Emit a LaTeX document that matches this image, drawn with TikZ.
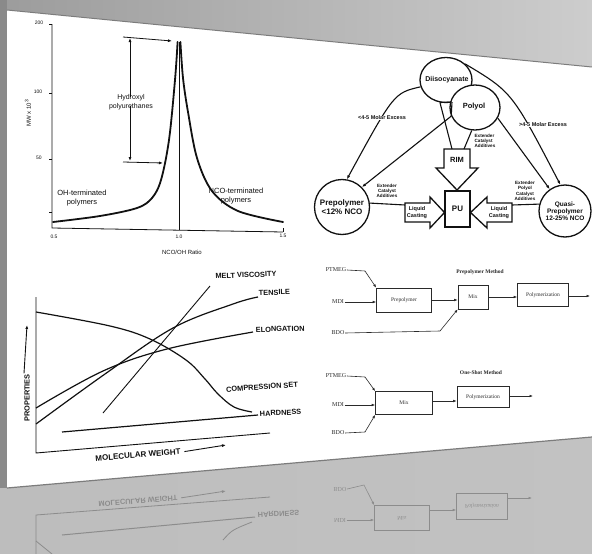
\documentclass[tikz,border=0pt]{standalone}
\usepackage{fontspec}
\setmainfont{Liberation Sans}
\newfontfamily\printserif{Liberation Serif}
\usetikzlibrary{arrows.meta,shapes.geometric}

\definecolor{wallleft}{HTML}{9C9C9C}
\definecolor{wallright}{HTML}{CDCDCD}
\definecolor{floorleft}{HTML}{BDBDBD}
\definecolor{floormid}{HTML}{DBDBDB}
\definecolor{floorright}{HTML}{C2C2C2}
\definecolor{strip}{HTML}{8A8A8A}
\definecolor{rim}{HTML}{7C7C7C}
\definecolor{ghost}{HTML}{8C8C8C}
\definecolor{ink}{HTML}{111111}
\definecolor{printink}{HTML}{2A2A2A}

\tikzset{
  every node/.style={inner sep=0.6pt, text=ink},
  tipS/.style={-{Latex[length=4pt,width=3pt]}},
  tipF/.style={-{Latex[length=3.5pt,width=2.6pt]}},
  axisA/.style={line width=0.8pt, ink},
  peak/.style={line width=1.8pt, ink, line cap=round},
  bold/.style={line width=1.1pt, ink},
  outline/.style={line width=1.3pt, ink},
  curve/.style={line width=1.2pt, ink},
  flowline/.style={line width=0.6pt, printink},
  flowbox/.style={draw=printink, line width=0.6pt, inner sep=0pt,
    font=\printserif\fontsize{5.5}{6}\selectfont, text=printink},
  inlbl/.style={font=\printserif\fontsize{6}{6}\selectfont, text=printink},
  ttl/.style={font=\printserif\bfseries\fontsize{5.5}{6}\selectfont, text=printink},
  tick/.style={font=\fontsize{5}{5}\selectfont},
  reg/.style={font=\fontsize{7.5}{8.5}\selectfont, align=center},
  regS/.style={font=\fontsize{6}{6}\selectfont},
  bA/.style={font=\bfseries\fontsize{7.5}{8}\selectfont},
  bB/.style={font=\bfseries\fontsize{8}{9.5}\selectfont, align=center},
  bC/.style={font=\bfseries\fontsize{6.5}{7.3}\selectfont, align=center},
  bD/.style={font=\bfseries\fontsize{5.5}{6.5}\selectfont, align=center},
  bE/.style={font=\bfseries\fontsize{4.6}{5.3}\selectfont, align=center},
  caps/.style={font=\bfseries\fontsize{7.4}{8}\selectfont},
  ghostline/.style={line width=0.8pt, ghost},
  ghosttext/.style={text=ghost},
}

\begin{document}
\begin{tikzpicture}[x=1pt,y=-1pt]
\useasboundingbox (0,0) rectangle (592,554);

% ---------- backdrop: wall, floor and the projected sheet ----------
\shade[left color=wallleft, right color=wallright] (0,0) rectangle (592,554);
\shade[left color=floorleft, middle color=floormid, right color=floorright]
  (0,488) -- (592,437) -- (592,554) -- (0,554) -- cycle;
\fill[strip] (0,0) rectangle (7,488);
\fill[white] (7,10) -- (592,67) -- (592,437) -- (7,488) -- cycle;
\draw[rim, line width=1pt] (7,10) -- (592,67);
\draw[rim, line width=1.2pt] (7,488) -- (592,437);

% ---------- floor reflection ----------
\draw[ghostline] (36,554) -- (36,515) -- (270,497);
\node[ghosttext, caps, rotate=4.5] (rmw) at (138,501) {\scalebox{1}[-1]{MOLECULAR WEIGHT}};
\coordinate (rmwtip) at (226,491);
\draw[ghostline, tipS] ([xshift=3pt]rmw.east) -- (rmwtip);
\coordinate (rh1) at (62,535);
\coordinate (rh2) at (255,517);
\draw[ghostline, line width=1pt] (rh1) -- (rh2);
\node[ghosttext, caps, rotate=3, anchor=west] (rhard) at (257,515) {\scalebox{1}[-1]{HARDNESS}};
\coordinate (rc1) at (223,540);
\coordinate (rc2) at (252,522);
\draw[ghostline] (rc1) .. controls (232,530) .. (rc2);
\coordinate (rt1) at (36,541);
\coordinate (rt2) at (52,554);
\draw[ghostline] (rt1) -- (rt2);
\node[flowbox, draw=ghost, text=ghost, minimum width=55, minimum height=25] (rmix) at (402,518) {\scalebox{1}[-1]{Mix}};
\node[flowbox, draw=ghost, text=ghost, minimum width=51, minimum height=26] (rpol) at (482,506) {\scalebox{1}[-1]{Polymerization}};
\node[inlbl, text=ghost] (rbdo) at (340,489) {\scalebox{1}[-1]{BDO}};
\node[inlbl, text=ghost] (rmdi) at (340,520) {\scalebox{1}[-1]{MDI}};
\draw[flowline, ghost, tipF] (rbdo.east) -- (364,485) -- (rmix.north west);
\draw[flowline, ghost, tipF] (rmdi.east) -- (rmix.west |- rmdi);
\draw[flowline, ghost, tipF] (rmix.east |- 0,510) -- (rpol.west |- 0,510);
\coordinate (rout) at (532,498);
\draw[flowline, ghost, tipF] (rpol.east |- rout) -- (rout);

% ---------- molecular weight versus NCO/OH ratio ----------
\draw[axisA] (52,24) -- (52,228) -- (283,232);
\foreach \yy in {24,93,159,212} \draw[axisA] (49,\yy) -- (52,\yy);
\draw[axisA] (283,228) -- (283,232);
\draw[line width=0.6pt, ink] (179,42) -- (179,230);
\node[tick] (t200) at (39,23) {200};
\node[tick] (t100) at (38,92) {100};
\node[tick] (t50) at (39,158) {50};
\node[tick] (x05) at (54,237) {0.5};
\node[tick] (x10) at (179,237) {1.0};
\node[tick] (x15) at (283,236) {1.5};
\node[regS, rotate=90] (mwlbl) at (28,113) {MW x 10\textsuperscript{3}};
\node[regS] (ratio) at (182,252) {NCO/OH Ratio};

\draw[peak] plot[smooth, tension=0.55] coordinates
  {(53,222) (100,216) (137,208) (152,198) (161,180) (169,140) (175,80) (177.6,42)};
\draw[peak] plot[smooth, tension=0.55] coordinates
  {(180.4,42) (183,78) (188,112) (197,158) (212,191) (238,211) (283,222)};

\node[reg, font=\fontsize{7}{8.5}\selectfont] (hyd) at (131,102) {Hydroxyl\\polyurethanes};
\coordinate (hyup) at (130,38);
\coordinate (hydown) at (130,161);
\draw[axisA, tipS] ([yshift=-3pt]hyd.north -| hyup) -- (hyup);
\draw[axisA, tipS] ([yshift=4pt]hyd.south -| hydown) -- (hydown);
\coordinate (hytl) at (123,37);
\coordinate (hytr) at (172,41);
\draw[axisA, tipS] (hytl) -- (hytr);
\coordinate (hybl) at (123,162);
\coordinate (hybr) at (163,163);
\draw[axisA, tipS] (hybl) -- (hybr);

\node[reg] (ohterm) at (82,198) {OH-terminated\\polymers};
\node[reg] (ncoterm) at (236,196) {NCO-terminated\\polymers};

% ---------- routes to polyurethane ----------
\node[ellipse, draw, outline, minimum width=52, minimum height=45] (dii) at (446,80) {};
\node[bA, font=\bfseries\fontsize{7}{8}\selectfont] (diit) at (447,80) {Diisocyanate};
\coordinate (wedge) at (452,102);
\draw[bold] (dii.255) -- (wedge);
\node[ellipse, draw, outline, fill=white, minimum width=50, minimum height=45] (pol) at (475,107.5) {};
\node[bA] (polt) at (474,107) {Polyol};
\draw[bold] (wedge) -- (pol.200);

\node[circle, draw, outline, minimum size=55] (pre) at (342,207) {};
\node[bB] (pret) at (342,207) {Prepolymer\\<12\% NCO};
\node[circle, draw, outline, minimum size=52] (qua) at (565,211) {};
\node[bC] (quat) at (565,211) {Quasi-\\Prepolymer\\12-25\% NCO};

\node[draw, outline, minimum width=25, minimum height=36, inner sep=0pt, bB] (pu) at (457.5,209) {PU};

% block arrows
\draw[outline] (444,149) -- (470,149) -- (470,168) -- (478,168) -- (457,190)
  -- (436,168) -- (444,168) -- cycle;
\node[bA] (rimt) at (457,160) {RIM};
\coordinate (rimtl) at (452,149);
\coordinate (rimtr) at (464,149);
\draw[outline] (405,203) -- (430,203) -- (430,197) -- (444.5,212.5) -- (430,228)
  -- (430,222) -- (405,222) -- cycle;
\node[bD] (lca) at (417,212.5) {Liquid\\Casting};
\draw[outline] (512,203) -- (487,203) -- (487,197) -- (470.5,212.5) -- (487,228)
  -- (487,222) -- (512,222) -- cycle;
\node[bD] (lcb) at (499,212.5) {Liquid\\Casting};
\coordinate (lcain) at (405,205);
\coordinate (lcbout) at (512,205);

% connectors
\draw[bold] (dii.255) -- (rimtl);
\draw[bold] (pol.262) -- (rimtr);
\draw[bold, tipS] (dii.195) .. controls (394,93) .. (pre.80);
\draw[bold, tipS] (pol.200) -- (pre.45);
\draw[bold, tipS] (dii.40) .. controls (512,92) .. (qua.100);
\draw[bold, tipS] (pol.-25) -- (qua.125);
\draw[bold] (pre.8) -- (lcain);
\draw[bold] (lcbout) -- (qua.165);

\node[bD, fill=white, inner sep=0.3pt] (mex1) at (382,118) {<4-5 Molar Excess};
\node[bD, fill=white, inner sep=0.3pt] (mex2) at (543,125) {>4-5 Molar Excess};
\node[bE, align=left] (extc) at (485,141) {Extender\\Catalyst\\Additives};
\node[bE] (exta) at (387,191) {Extender\\Catalyst\\Additives};
\node[bE] (extb) at (525,191) {Extender\\Polyol\\Catalyst\\Additives};

% ---------- properties versus molecular weight ----------
\draw[line width=0.9pt, ink] (36,297) -- (36,453) -- (270,433);
\draw[curve] plot[smooth, tension=0.6] coordinates
  {(36,312) (110,326) (150,339) (186,360) (205,379) (218,394) (234,407) (252,412)};
\draw[curve] plot[smooth, tension=0.6] coordinates
  {(36,424) (105,374) (173,328) (233,304) (258,297)};
\draw[curve] plot[smooth, tension=0.6] coordinates
  {(36,408) (103,371) (167,349) (253,332)};
\coordinate (mv1) at (103,413);
\coordinate (mv2) at (210,286);
\draw[line width=0.9pt, ink] (mv1) -- (mv2);
\coordinate (hd1) at (62,432);
\coordinate (hd2) at (258,415);
\draw[curve] (hd1) -- (hd2);

\node[caps, rotate=2] (meltv) at (246,275) {MELT VISCOSITY};
\node[caps, rotate=2, anchor=west] (tens) at (258,293) {TENSILE};
\node[caps, rotate=2, anchor=west] (elong) at (255,330) {ELONGATION};
\node[caps, rotate=4] (cset) at (262,387) {COMPRESSION SET};
\node[caps, rotate=3, anchor=west] (hard) at (259,414) {HARDNESS};
\node[caps, rotate=90] (props) at (27,398) {PROPERTIES};
\coordinate (propstip) at (27,325);
\draw[line width=0.9pt, ink, tipS] ([xshift=-3pt]props.east) -- (propstip);
\node[caps, font=\bfseries\fontsize{8}{8}\selectfont, rotate=4.5] (mw) at (138,455) {MOLECULAR WEIGHT};
\coordinate (mwtip) at (226,445);
\draw[line width=0.9pt, ink, tipS] ([xshift=3pt]mw.east) -- (mwtip);

% ---------- prepolymer method ----------
\node[ttl] (ppm) at (480,272) {Prepolymer Method};
\node[flowbox, minimum width=55, minimum height=24] (pp1) at (404,300) {Prepolymer};
\node[flowbox, minimum width=30, minimum height=24] (mx1) at (473,297) {Mix};
\node[flowbox, minimum width=51, minimum height=23] (pz1) at (543,295) {Polymerization};
\node[inlbl] (ptm1) at (336,270) {PTMEG};
\node[inlbl] (mdi1) at (338,302) {MDI};
\node[inlbl] (bdo1) at (338,333) {BDO};
\draw[flowline, tipF] (ptm1.east) -- (365,271) -- (pp1.north west);
\draw[flowline, tipF] (mdi1.east) -- (pp1.west |- mdi1);
\draw[flowline, tipF] (bdo1.east) -- (440,331) -- (mx1.south west);
\draw[flowline, tipF] (pp1.east |- 0,300) -- (mx1.west |- 0,300);
\draw[flowline, tipF] (mx1.east |- 0,297) -- (pz1.west |- 0,297);
\coordinate (out1) at (590,296);
\draw[flowline, tipF] (pz1.east |- out1) -- (out1);

% ---------- one-shot method ----------
\node[ttl] (osm) at (481,373) {One-Shot Method};
\node[flowbox, minimum width=57, minimum height=23] (mx2) at (404,403) {Mix};
\node[flowbox, minimum width=52, minimum height=21] (pz2) at (483,397) {Polymerization};
\node[inlbl] (ptm2) at (336,376) {PTMEG};
\node[inlbl] (mdi2) at (338,405) {MDI};
\node[inlbl] (bdo2) at (338,433) {BDO};
\draw[flowline, tipF] (ptm2.east) -- (365,377) -- (mx2.north west);
\draw[flowline, tipF] (mdi2.east) -- (mx2.west |- mdi2);
\draw[flowline, tipF] (bdo2.east) -- (365,432) -- (mx2.south west);
\draw[flowline, tipF] (mx2.east |- 0,401) -- (pz2.west |- 0,401);
\coordinate (out2) at (533,396);
\draw[flowline, tipF] (pz2.east |- out2) -- (out2);

\end{tikzpicture}
\end{document}
